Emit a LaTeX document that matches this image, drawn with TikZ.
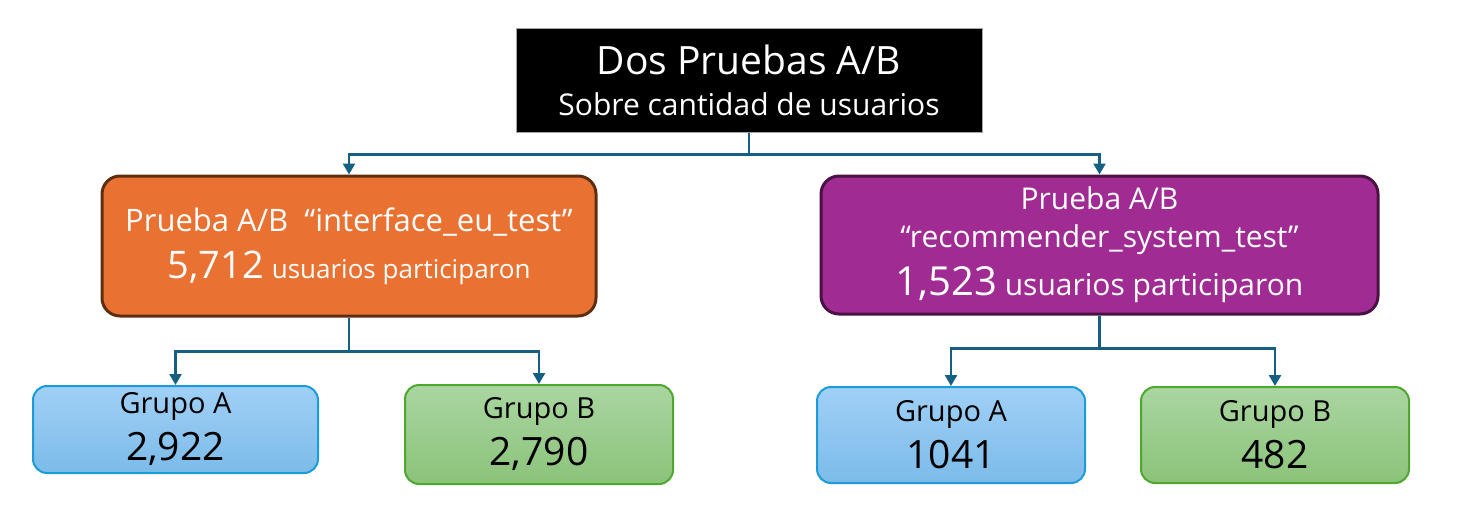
\documentclass[tikz,border=0pt]{standalone}
\usepackage{fontspec}
\setmainfont{Open Sans}
\usepackage{xcolor}
\usetikzlibrary{positioning, arrows.meta}
\definecolor{linkblue}{HTML}{156082}
\definecolor{abfill}{HTML}{E97132}
\definecolor{abline}{HTML}{5E2E10}
\definecolor{recfill}{HTML}{A02B93}
\definecolor{recline}{HTML}{4A1243}
\definecolor{gatop}{HTML}{A0D0F6}
\definecolor{gabot}{HTML}{7CBBE9}
\definecolor{galine}{HTML}{1A9CD8}
\definecolor{gbtop}{HTML}{AAD6A1}
\definecolor{gbbot}{HTML}{8BC37A}
\definecolor{gbline}{HTML}{4EA72E}
\newcommand{\fs}[2]{\fontsize{#1}{#2}\selectfont}

\begin{document}
\begin{tikzpicture}[x=1pt, y=-1pt,
  titlebox/.style={draw=gray!70, line width=1pt, fill=black, text=white,
    minimum width=466pt, minimum height=104pt, align=center, inner sep=0pt,
    font=\fs{30}{41}},
  testbox/.style={rounded corners=18pt, line width=3pt, text=white,
    align=center, inner sep=0pt},
  grpbox/.style={rounded corners=14pt, line width=2pt, align=center,
    inner sep=0pt, minimum width=268pt, minimum height=96pt, font=\fs{29}{47}},
  grpa/.style={grpbox, draw=galine, top color=gatop, bottom color=gabot},
  grpb/.style={grpbox, draw=gbline, top color=gbtop, bottom color=gbbot},
  link/.style={draw=linkblue, line width=2.5pt,
    -{Triangle[width=12pt, length=11pt]}},
]
  \useasboundingbox (0,0) rectangle (1466,530);

  % Title
  \node[titlebox] (top) at (749, 80)
    {\fs{39}{41}Dos Pruebas A/B\\ Sobre cantidad de usuarios};

  % The two tests
  \node[testbox, draw=abline, fill=abfill, minimum width=494pt,
    minimum height=140pt, font=\fs{31}{47}] (ab1) at (349, 246)
    {Prueba A/B\ \ “interface\_eu\_test”\\
     {\fs{38}{47}5,712} {\fs{26}{47}usuarios participaron}};
  \node[testbox, draw=recline, fill=recfill, minimum width=557pt,
    minimum height=138pt, font=\fs{30}{38}] (ab2) at (1099.5, 245)
    {Prueba A/B\\ “recommender\_system\_test”\\[10pt]
     {\fs{40}{44}1,523} usuarios participaron};

  % Groups
  \node[grpa, minimum width=285pt, minimum height=87pt] (ga1) at (175.5, 429.5)
    {Grupo A\\ \fs{39}{47}2,922};
  \node[grpb, minimum height=99pt] (gb1) at (539, 434.5)
    {Grupo B\\ \fs{39}{47}2,790};
  \node[grpa] (ga2) at (951, 435)
    {Grupo A\\ \fs{39}{47}1041};
  \node[grpb] (gb2) at (1275, 435)
    {Grupo B\\ \fs{39}{47}482};

  % Connectors
  \draw[link] (top.south) -- ++(0, 22) -| (ab1.north);
  \draw[link] (top.south) -- ++(0, 22) -| (ab2.north);
  \draw[link] (ab1.south) -- ++(0, 34) -| (ga1.north);
  \draw[link] (ab1.south) -- ++(0, 34) -| (gb1.north);
  \draw[link] (ab2.south) -- ++(0, 33) -| (ga2.north);
  \draw[link] (ab2.south) -- ++(0, 33) -| (gb2.north);
\end{tikzpicture}
\end{document}
